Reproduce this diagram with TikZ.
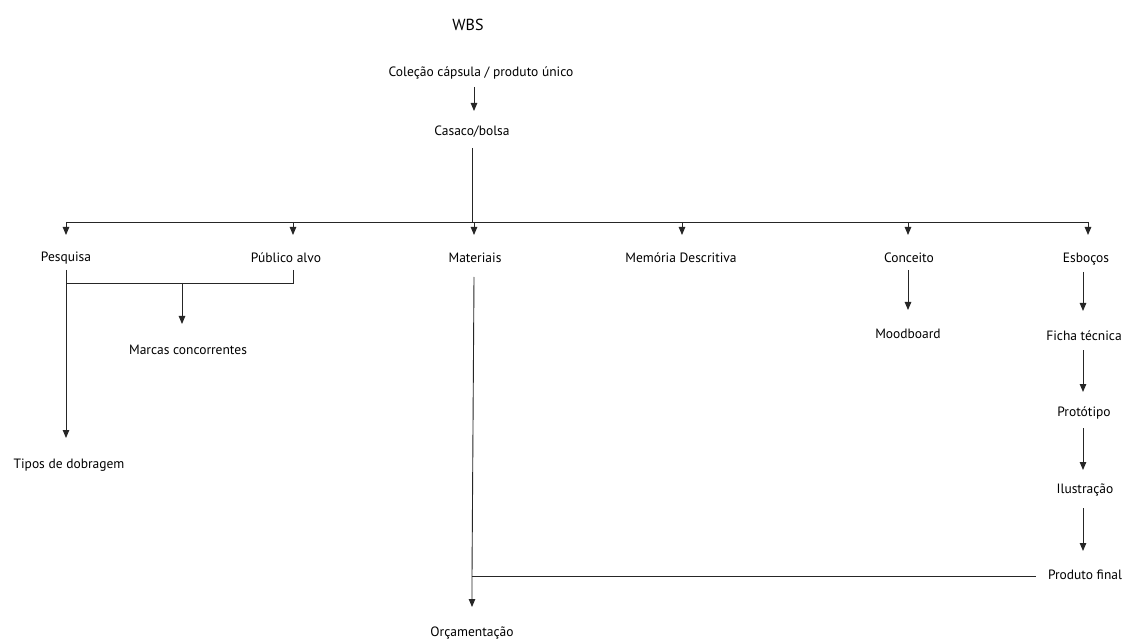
\documentclass[tikz,border=0pt]{standalone}
\usepackage{fontspec}
\setmainfont{PT Sans}
\usetikzlibrary{arrows.meta}
\begin{document}
\begin{tikzpicture}[x=1pt,y=-1pt,
  lbl/.style={inner sep=0pt,font=\fontsize{13.5}{15}\selectfont},
  conn/.style={line width=0.9pt,black!85},
  arr/.style={conn,-{Triangle[length=8pt,width=6.5pt]}}]
\useasboundingbox (0,0) rectangle (1135,644);
\node[inner sep=0pt,font=\fontsize{16}{18}\selectfont] (wbs) at (468,25) {WBS};
\node[lbl] (col) at (481,73) {Coleção cápsula / produto único};
\node[lbl] (cas) at (472,132) {Casaco/bolsa};
\node[lbl] (pes) at (66,258) {Pesquisa};
\node[lbl] (pub) at (286,258) {Público alvo};
\node[lbl] (mat) at (475,258) {Materiais};
\node[lbl] (mem) at (681,258) {Memória Descritiva};
\node[lbl] (con) at (909,258) {Conceito};
\node[lbl] (esb) at (1086,259) {Esboços};
\node[lbl] (mar) at (188,350) {Marcas concorrentes};
\node[lbl] (tip) at (69,465) {Tipos de dobragem};
\node[lbl] (moo) at (908,334) {Moodboard};
\node[lbl] (fic) at (1084,336) {Ficha técnica};
\node[lbl] (pro) at (1084,413) {Protótipo};
\node[lbl] (ilu) at (1085,490) {Ilustração};
\node[lbl] (fin) at (1085,575) {Produto final};
\node[lbl] (orc) at (472,633) {Orçamentação};
% top chain
\coordinate (a1) at (474,87);
\coordinate (a2) at (474,111);
\draw[arr] (a1) -- (a2);
% bar
\coordinate (c1) at (472,148);
\coordinate (bl) at (66,222);
\coordinate (br) at (1088,222);
\draw[conn] (c1) -- (472,222);
\draw[conn] (bl) -- (br);
\foreach \x/\n in {66/pes,293/pub,474/mat,682/mem,908/con,1088/esb}
  \draw[arr] (\x,222) -- (\x,235);
% Pesquisa / Publico alvo
\coordinate (p1) at (66,270);
\coordinate (p2) at (293,270);
\coordinate (j1) at (66,283);
\coordinate (j2) at (293,283);
\coordinate (jm) at (182,283);
\draw[conn] (p2) -- (j2) -- (j1);
\draw[arr] (p1) -- (66,438);
\draw[arr] (jm) -- (182,324);
% Materiais
\coordinate (m1) at (474,277);
\coordinate (mj) at (472,576);
\coordinate (m2) at (472,607);
\draw[arr] (m1) -- (mj) -- (m2);
\draw[conn] (mj) -- (1036,576);
% Conceito
\draw[arr] (908,270) -- (908,310);
% Esbocos chain
\draw[arr] (1083,272) -- (1083,311);
\draw[arr] (1083,350) -- (1083,392);
\draw[arr] (1083,428) -- (1083,470);
\draw[arr] (1083,508) -- (1083,551);
\end{tikzpicture}
\end{document}
